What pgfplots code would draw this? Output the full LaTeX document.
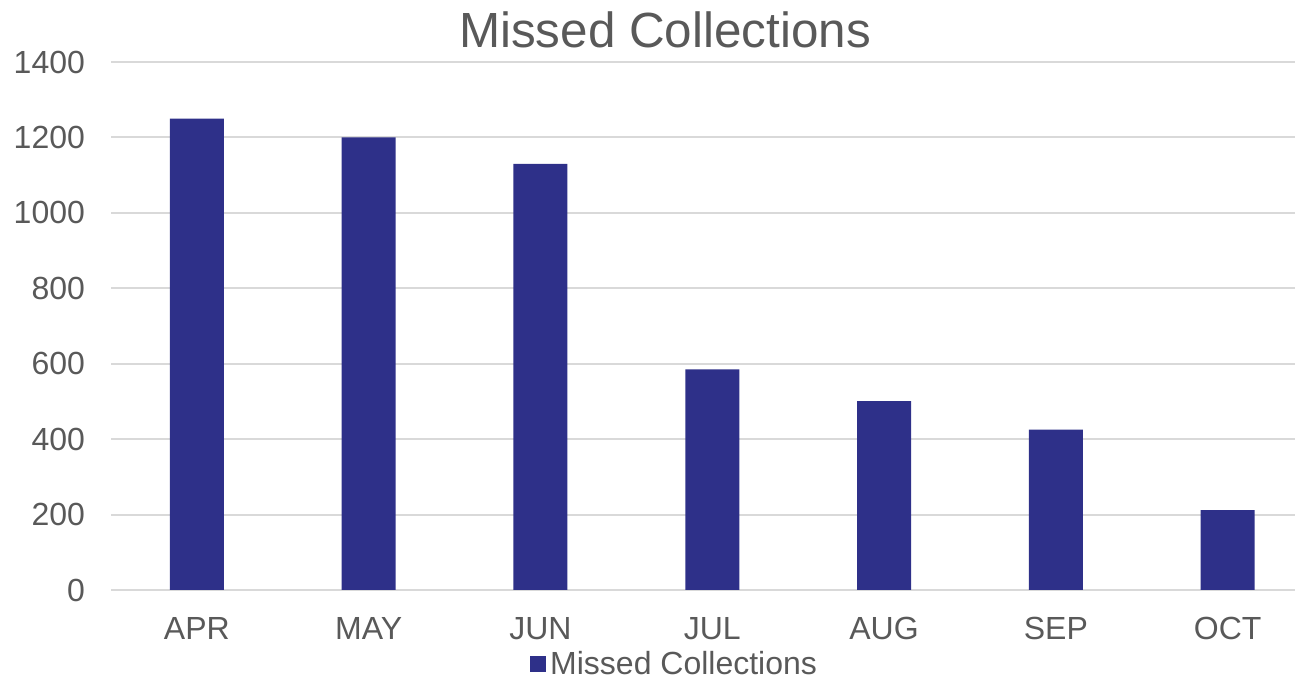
\documentclass[border=0pt]{standalone}
\usepackage{pgfplots}
\pgfplotsset{compat=1.18}
\usepackage{fontspec}
\setmainfont{Liberation Sans}
\definecolor{barc}{HTML}{2E3089}
\definecolor{txt}{HTML}{595959}
\definecolor{gridc}{HTML}{D9D9D9}
\begin{document}
\begin{tikzpicture}
\useasboundingbox (0,0) rectangle (647.5pt,339pt);
\begin{axis}[
  at={(55.5pt,44pt)}, anchor=south west,
  scale only axis, width=591.8pt, height=264pt,
  ymin=0, ymax=1400, ytick={0,200,...,1400},
  xmin=-0.5, xmax=6.39,
  xtick={0,...,6},
  xticklabels={APR,MAY,JUN,JUL,AUG,SEP,OCT},
  axis line style={draw=none},
  major tick length=0pt,
  ymajorgrids, grid style={gridc, line width=1pt},
  tick label style={font=\fontsize{16}{19}\selectfont, text=txt},
  /pgf/number format/assume math mode=true,
  /pgf/number format/1000 sep={},
  yticklabel style={xshift=-9.5pt},
  xticklabel style={yshift=-10pt},
  clip=false,
  legend style={draw=none, fill=none, at={(0.477,-0.140)}, anchor=center,
    font=\fontsize{16}{19}\selectfont, text=txt, inner sep=0pt,
    /tikz/every even column/.append style={column sep=2pt}},
  legend image code/.code={\fill[barc] (0pt,-4pt) rectangle (8pt,4pt);},
]
\addplot[ybar, bar width=27pt, fill=barc, draw=none] coordinates {
 (0,1250) (1,1200) (2,1130) (3,585) (4,501) (5,425) (6,212)
};
\addlegendentry{Missed Collections}
\end{axis}
\node[text=txt, font=\fontsize{24.7}{28}\selectfont] at (332.5pt,324pt) {Missed Collections};
\end{tikzpicture}
\end{document}
